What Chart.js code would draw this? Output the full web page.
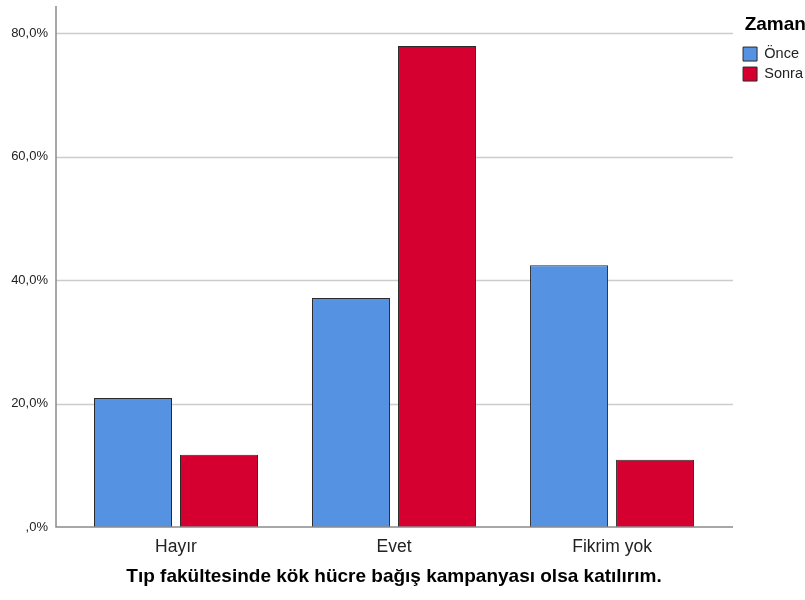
<!DOCTYPE html>
<html>
<head>
<meta charset="utf-8">
<script src="https://cdn.jsdelivr.net/npm/chart.js@4.4.1/dist/chart.umd.min.js"></script>
<style>
    body { margin: 0; background: #fff; }
    #chartBox { width: 805px; height: 600px; position: relative; }
</style>
</head>
<body>
<div id="chartBox"><canvas id="barChart"></canvas></div>
<script>
// du lieu doc tu hinh
var gCategories = ["Hayır", "Evet", "Fikrim yok"];
var gOnceValues = [20.9, 37.1, 42.4];
var gSonraValues = [11.7, 77.9, 10.9];
var gYTicks = [0, 20, 40, 60, 80];
var gSeriesNames = ["Önce", "Sonra"];
var gLegendTitle = "Zaman";
var gAxisTitle = "Tıp fakültesinde kök hücre bağış kampanyası olsa katılırım.";

// format kieu SPSS: ",0%" / "20,0%"
function formatPercent(pValue) {
    var vText = pValue.toFixed(1).replace(".", ",");
    if (vText.indexOf("0,") === 0) vText = vText.substring(1);
    return vText + "%";
}

// ve grid + truc (grid dai hon vung ve mot chut nhu SPSS)
var gAxisPlugin = {
    id: "spssAxis",
    beforeDatasetsDraw: function (pChart) {
        var vCtx = pChart.ctx;
        var vY = pChart.scales.y;
        vCtx.save();
        vCtx.strokeStyle = "#cccccc";
        vCtx.lineWidth = 1.5;
        gYTicks.forEach(function (bTick) {
            if (bTick === 0) return;
            var bPix = Math.round(vY.getPixelForValue(bTick)) + 0.5;
            vCtx.beginPath();
            vCtx.moveTo(56, bPix);
            vCtx.lineTo(733, bPix);
            vCtx.stroke();
        });
        vCtx.restore();
    },
    afterDatasetsDraw: function (pChart) {
        var vCtx = pChart.ctx;
        var vArea = pChart.chartArea;
        vCtx.save();
        vCtx.strokeStyle = "#8a8a8a";
        vCtx.lineWidth = 1.5;
        vCtx.beginPath();
        vCtx.moveTo(56, vArea.top);
        vCtx.lineTo(56, vArea.bottom);
        vCtx.lineTo(733, vArea.bottom);
        vCtx.stroke();
        vCtx.restore();
    }
};

var vCanvas = document.getElementById("barChart").getContext("2d");
new Chart(vCanvas, {
    type: "bar",
    data: {
        labels: gCategories,
        datasets: [
            {
                label: gSeriesNames[0],
                data: gOnceValues,
                backgroundColor: "#5592e1",
                borderColor: "#2a2a2a",
                borderWidth: 1
            },
            {
                label: gSeriesNames[1],
                data: gSonraValues,
                backgroundColor: "#d5002f",
                borderColor: "#2a2a2a",
                borderWidth: 1
            }
        ]
    },
    options: {
        responsive: true,
        maintainAspectRatio: false,
        animation: false,
        datasets: {
            bar: { categoryPercentage: 0.789, barPercentage: 0.907 }
        },
        // padding phai am: chu thich cua Chart.js chua 10px thua ben phai
        layout: { padding: { top: 6, right: -8, left: 0, bottom: 6 } },
        plugins: {
            tooltip: { enabled: false },
            legend: {
                position: "right",
                align: "start",
                title: {
                    display: true,
                    text: gLegendTitle,
                    position: "center",
                    color: "#000",
                    font: { family: "Liberation Sans", size: 19, weight: "bold" },
                    padding: { top: 9.5, bottom: 3 }
                },
                labels: {
                    boxWidth: 14,
                    boxHeight: 14,
                    padding: 5.5,
                    color: "#222",
                    font: { family: "Liberation Sans", size: 14.5 }
                }
            }
        },
        scales: {
            x: {
                grid: { display: false, drawTicks: false },
                border: { display: false },
                afterFit: function (pScale) {
                    pScale.height = 67;
                },
                ticks: {
                    padding: 10,
                    color: "#222",
                    font: { family: "Liberation Sans", size: 17.5 }
                },
                title: {
                    display: true,
                    text: gAxisTitle,
                    color: "#000",
                    padding: { top: 6, bottom: 6 },
                    font: { family: "Liberation Sans", size: 19, weight: "bold" }
                }
            },
            y: {
                min: 0,
                max: 84.4,
                grid: { display: false, drawTicks: false },
                border: { display: false },
                afterBuildTicks: function (pScale) {
                    pScale.ticks = gYTicks.map(function (bValue) { return { value: bValue }; });
                },
                afterFit: function (pScale) {
                    pScale.width = 67;
                    pScale.paddingTop = 0;
                    pScale.paddingBottom = 0;
                },
                ticks: {
                    padding: 19,
                    color: "#222",
                    font: { family: "Liberation Sans", size: 13 },
                    callback: function (pValue) { return formatPercent(pValue); }
                }
            },
            // truc rong ben phai, chi de tao khoang cach giua vung ve va chu thich
            spacer: {
                type: "linear",
                position: "right",
                display: true,
                grid: { display: false, drawTicks: false },
                border: { display: false },
                ticks: { display: false },
                afterFit: function (pScale) {
                    pScale.width = 16.5;
                }
            }
        }
    },
    plugins: [gAxisPlugin]
});
</script>
</body>
</html>
